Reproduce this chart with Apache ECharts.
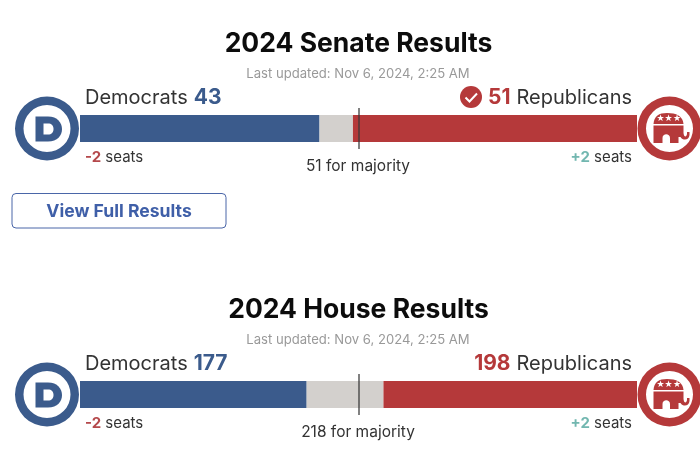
<!DOCTYPE html>
<html>
<head>
<meta charset="utf-8">
<style>
  html, body { margin: 0; padding: 0; background: #fff; }
  #main { width: 700px; height: 450px; }
</style>
<script src="https://cdn.jsdelivr.net/npm/echarts@6/dist/echarts.min.js"></script>
</head>
<body>
<div id="main"></div>
<script>
var categories = ['Seats'];
var chambers = ['Senate', 'House'];
var demSeats = [43, 177];
var uncalledSeats = [6, 60];
var repSeats = [51, 198];
var totalSeats = [100, 435];
var majorityLine = [50, 217.5];
var majorityNeeded = [51, 218];
var demChange = ['-2', '-2'];
var repChange = ['+2', '+2'];
var updatedText = 'Last updated: Nov 6, 2024, 2:25 AM';

var BLUE = '#3b5b8c', RED = '#b5393a', GREY = '#d3d0cd', TEAL = '#72b7b0', INK = '#333';
var FONT = 'Inter, "Noto Sans", sans-serif';
var OFFSET = 266;

// graphic has no plain path type, so the logo shapes get registered
var logoShapes = {
  demLetter: 'M35.5 116.5 L48 116.5 C57.5 116.5 62 123 62 129 C62 135.5 57.5 141.5 48 141.5 L35.5 141.5 Z',
  demCounter: 'M43.5 123.5 L43.5 134.5 L48 134.5 C51.5 134.5 53.5 132.5 53.5 129 C53.5 125.5 51.5 123.5 48 123.5 Z',
  repBack: 'M653.5 124 C654 116 659 113 667 113 C676 113 683 116 683.5 124 Z',
  repBody: 'M653.5 125.5 L683.5 125.5 L683.5 133 C684 137.5 686.5 137.5 687 134 L687 132 L689.5 132 L689.5 135 C689 140.5 683 141 680.5 137 L678.5 137 L678.5 143 L670 143 L670 138 C670 133 662.5 133 662.5 138 L662.5 143 L653.5 143 Z'
};
Object.keys(logoShapes).forEach(function (name) {
  echarts.graphic.registerShape(name, echarts.graphic.extendPath(logoShapes[name], {}));
});

var chart = echarts.init(document.getElementById('main'));

function barSeries(i, name, values, color) {
  return {
    name: name,
    type: 'bar',
    stack: chambers[i],
    xAxisIndex: i,
    yAxisIndex: i,
    barWidth: 27,
    itemStyle: { color: color },
    data: [values[i]]
  };
}

function majorityMark(i) {
  return {
    type: 'line',
    xAxisIndex: i,
    yAxisIndex: i,
    data: [],
    silent: true,
    z: 5,
    markLine: {
      silent: true,
      symbol: 'none',
      label: { show: false },
      lineStyle: { color: '#3a3a3a', width: 1.5, type: 'solid', opacity: 0.85 },
      data: [{ xAxis: majorityLine[i] }]
    }
  };
}

function text(x, y, str, opts) {
  return {
    type: 'text',
    x: x,
    y: y,
    silent: true,
    style: Object.assign({
      text: str,
      fontFamily: FONT,
      fontSize: 15,
      fill: INK,
      align: 'left',
      verticalAlign: 'middle'
    }, opts || {})
  };
}

function demLogo() {
  return [
    { type: 'ring', shape: { cx: 47, cy: 128.5, r: 32, r0: 23.5 }, style: { fill: BLUE } },
    { type: 'demLetter', style: { fill: BLUE } },
    { type: 'demCounter', style: { fill: '#fff' } }
  ];
}

function repLogo() {
  var els = [
    { type: 'circle', shape: { cx: 669.5, cy: 128.5, r: 34 }, style: { fill: '#fff' } },
    { type: 'ring', shape: { cx: 669.5, cy: 128.5, r: 32, r0: 23.5 }, style: { fill: RED } },
    { type: 'repBack', style: { fill: RED } },
    { type: 'repBody', style: { fill: RED } }
  ];
  [660.5, 668.5, 677].forEach(function (x) {
    els.push(text(x, 118.5, '★', { fontFamily: 'DejaVu Sans', fontSize: 9, fill: '#fff', align: 'center' }));
  });
  return els;
}

function chamberGraphics(i) {
  var nameRich = {
    l: { fontFamily: FONT, fontSize: 20, fill: INK },
    b: { fontFamily: FONT, fontSize: 21, fontWeight: 700, fill: BLUE },
    r: { fontFamily: FONT, fontSize: 21, fontWeight: 700, fill: RED },
    sp: { fontFamily: FONT, fontSize: 20, width: 6 }
  };
  var seatRich = {
    l: { fontFamily: FONT, fontSize: 15, fill: INK },
    down: { fontFamily: FONT, fontSize: 15, fontWeight: 700, fill: '#b5494c' },
    up: { fontFamily: FONT, fontSize: 15, fontWeight: 700, fill: TEAL }
  };
  var children = [
    text(358, 74, updatedText, { align: 'center', fontSize: 13.1, fill: '#999' }),
    text(85, 98, '{l|Democrats}{sp| }{b|' + demSeats[i] + '}', { rich: nameRich }),
    text(632, 98, '{r|' + repSeats[i] + '}{sp| }{l|Republicans}', { align: 'right', rich: nameRich }),
    text(85, 157, '{down|' + demChange[i] + '} {l|seats}', { rich: seatRich }),
    text(632, 157, '{up|' + repChange[i] + '} {l|seats}', { align: 'right', rich: seatRich }),
    text(358, 166, majorityNeeded[i] + ' for majority', { align: 'center', fontSize: 15.5 })
  ].concat(demLogo(), repLogo());

  // only the called chamber has a winner tick
  if (repSeats[i] * 2 > totalSeats[i]) {
    children.push(
      { type: 'circle', shape: { cx: 471, cy: 97, r: 11 }, style: { fill: RED } },
      { type: 'polyline', shape: { points: [[465.5, 97.5], [469.5, 101.5], [477, 93.5]] }, style: { stroke: '#fff', lineWidth: 2, fill: 'none' } }
    );
  }
  return { type: 'group', x: 0, y: OFFSET * i, children: children };
}

var button = [
  { type: 'rect', shape: { x: 12, y: 193.5, width: 214, height: 34.5, r: 4 }, style: { fill: '#fff', stroke: '#4a66a8', lineWidth: 1 } },
  text(119, 211.5, 'View Full Results', { align: 'center', fontSize: 17.6, fontWeight: 700, fill: '#3f5fa8' })
];

var option = {
  animation: false,
  backgroundColor: '#fff',
  title: chambers.map(function (c, i) {
    return {
      text: '2024 ' + c + ' Results',
      left: 358.5,
      top: 44 + OFFSET * i,
      textAlign: 'center',
      textVerticalAlign: 'middle',
      padding: 0,
      textStyle: { fontFamily: FONT, fontSize: 26.5, fontWeight: 700, color: '#0c0c0c' }
    };
  }),
  grid: chambers.map(function (c, i) {
    return { left: 80, width: 557, top: 108 + OFFSET * i, height: 41 };
  }),
  xAxis: chambers.map(function (c, i) {
    return { type: 'value', gridIndex: i, min: 0, max: totalSeats[i], show: false };
  }),
  yAxis: chambers.map(function (c, i) {
    return { type: 'category', gridIndex: i, data: categories, show: false };
  }),
  series: chambers.reduce(function (all, c, i) {
    return all.concat([
      barSeries(i, 'Democrats', demSeats, BLUE),
      barSeries(i, 'Uncalled', uncalledSeats, GREY),
      barSeries(i, 'Republicans', repSeats, RED),
      majorityMark(i)
    ]);
  }, []),
  graphic: [chamberGraphics(0), chamberGraphics(1)].concat(button)
};
chart.setOption(option);
window.onresize = function () {
  chart.resize();
};
</script>
</body>
</html>
